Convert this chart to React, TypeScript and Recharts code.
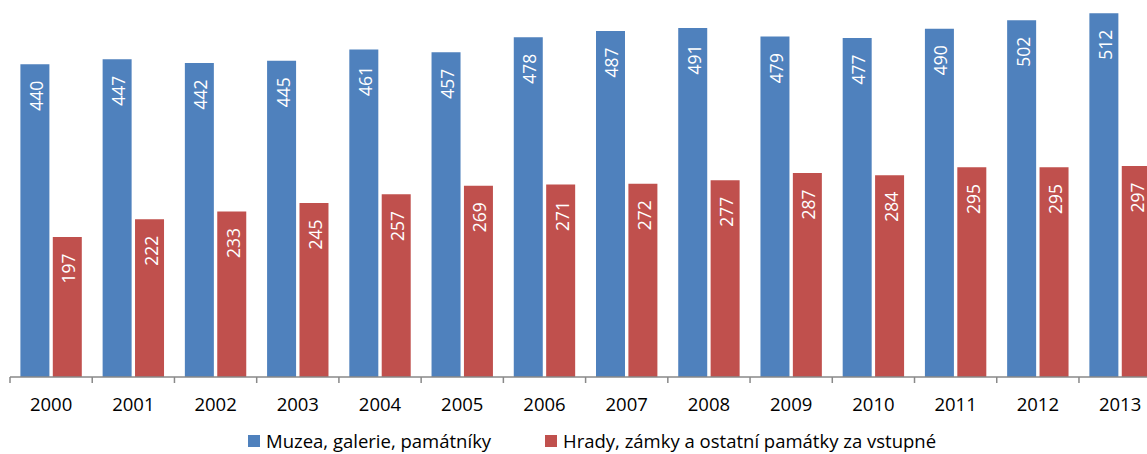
import React from 'react';
import { BarChart, Bar, XAxis, YAxis, LabelList, Legend } from 'recharts';

const years = ['2000', '2001', '2002', '2003', '2004', '2005', '2006', '2007', '2008', '2009', '2010', '2011', '2012', '2013'];
const muzea = [440, 447, 442, 445, 461, 457, 478, 487, 491, 479, 477, 490, 502, 512];
const hrady = [197, 222, 233, 245, 257, 269, 271, 272, 277, 287, 284, 295, 295, 297];

const SERIES = [
  { key: 'muzea', name: 'Muzea, galerie, památníky', color: '#4F81BD' },
  { key: 'hrady', name: 'Hrady, zámky a ostatní památky za vstupné', color: '#C0504D' },
];

const data = years.map((year, i) => ({ year, muzea: muzea[i], hrady: hrady[i] }));

const CHART_W = 1170;
const CHART_H = 454;
const MARGIN = { top: 0, right: 8.8, bottom: 37, left: 10 };
const PLOT_W = CHART_W - MARGIN.left - MARGIN.right;
const HALF_BAND = PLOT_W / years.length / 2;
const FONT = '"Open Sans", "DejaVu Sans", sans-serif';

// year label in the middle, tick mark on the left edge of each category
const YearTick = (props: any) => {
  const { x, y, payload } = props;
  return (
    <g>
      <line x1={x - HALF_BAND} x2={x - HALF_BAND} y1={y - 6} y2={y} stroke="#898989" strokeWidth={1.5} />
      <text x={x} y={y + 28} textAnchor="middle" fontSize={18.5} fontFamily={FONT} fill="#000">
        {payload.value}
      </text>
    </g>
  );
};

const BarValue = (props: any) => {
  const { x, y, width, value } = props;
  const cx = x + width / 2 + 1;
  const cy = y + 16.5;
  return (
    <text
      x={cx}
      y={cy}
      transform={`rotate(-90, ${cx}, ${cy})`}
      textAnchor="end"
      dominantBaseline="central"
      fontSize={17.5}
      fontFamily={FONT}
      fill="#fff"
    >
      {value}
    </text>
  );
};

const LegendBox = () => (
  <div style={{ display: 'flex', paddingLeft: 248, fontFamily: FONT, fontSize: 18.5, color: '#000' }}>
    {SERIES.map((s, i) => (
      <div key={s.key} style={{ display: 'flex', alignItems: 'center', width: i === 0 ? 297 : 'auto', whiteSpace: 'nowrap' }}>
        <span style={{ width: 12, height: 12, background: s.color, marginRight: 6, display: 'inline-block' }}></span>
        <span style={{ lineHeight: '18px' }}>{s.name}</span>
      </div>
    ))}
  </div>
);

export default function App() {
  return (
    <div style={{ position: 'absolute', left: 0, top: 0, width: 1147, height: 454, overflow: 'hidden', background: '#fff' }}>
      <BarChart width={CHART_W} height={CHART_H} data={data} margin={MARGIN} barCategoryGap={10.4} barGap={3.4}>
        <XAxis
          dataKey="year"
          height={40}
          tickLine={false}
          tickSize={6}
          tickMargin={0}
          axisLine={{ stroke: '#898989', strokeWidth: 1.5 }}
          tick={<YearTick />}
          interval={0}
        />
        <YAxis hide domain={[0, 530.5]} />
        <Legend
          layout="horizontal"
          verticalAlign="middle"
          align="center"
          wrapperStyle={{ top: 432, left: 0, width: 1147 }}
          content={<LegendBox />}
        />
        {SERIES.map((s) => (
          <Bar key={s.key} dataKey={s.key} name={s.name} fill={s.color} isAnimationActive={false}>
            <LabelList dataKey={s.key} content={<BarValue />} />
          </Bar>
        ))}
      </BarChart>
    </div>
  );
}
